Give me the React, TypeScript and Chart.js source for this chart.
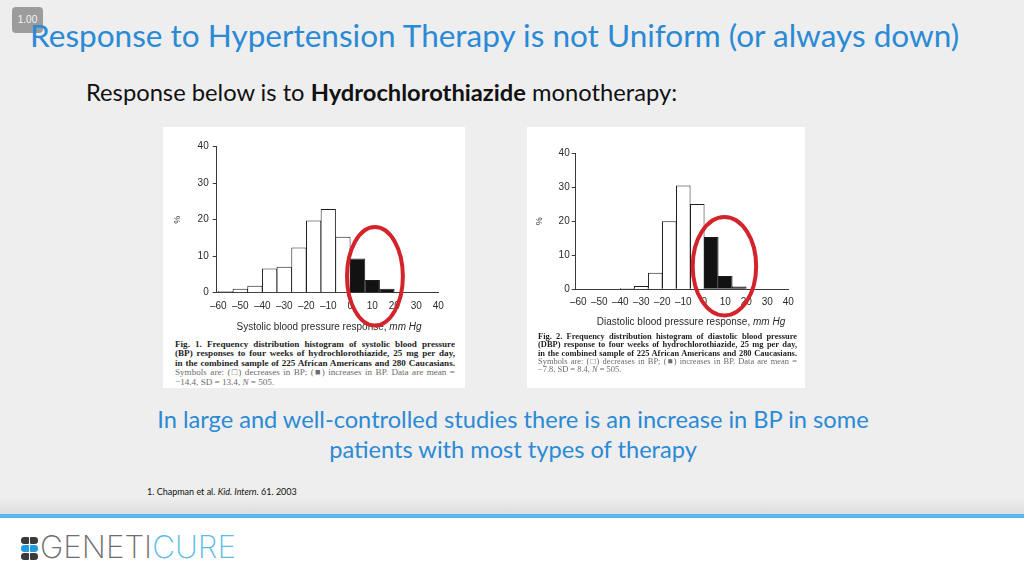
import React, { useEffect, useRef } from "react";
import { Chart, registerables } from "chart.js";

Chart.register(...registerables);

// ---------------- data ----------------
const binStarts = [-60, -53.33, -46.67, -40, -33.33, -26.67, -20, -13.33, -6.67, 0, 6.67, 13.33, 20, 26.67, 33.33];
const binWidth = 6.67;
const systolicPercent = [0.4, 1.1, 1.9, 6.6, 7.1, 12.4, 19.8, 22.9, 15.3, 9.4, 3.5, 1.1, 0.2, 0, 0.2];
const diastolicPercent = [0, 0, 0, 0.4, 1.0, 4.9, 20.0, 30.5, 25.1, 15.4, 3.9, 0.8, 0, 0, 0];
const xTickValues = [-60, -50, -40, -30, -20, -10, 0, 10, 20, 30, 40];
const yTickValues = [0, 10, 20, 30, 40];

const systolicCaption = [
  "Fig. 1. Frequency distribution histogram of systolic blood pressure",
  "(BP) responses to four weeks of hydrochlorothiazide, 25 mg per day,",
  "in the combined sample of 225 African Americans and 280 Caucasians.",
  "Symbols are: (\u25A1) decreases in BP; (\u25A0) increases in BP. Data are mean =",
  "\u221214.4, SD = 13.4, N = 505.",
];
const diastolicCaption = [
  "Fig. 2. Frequency distribution histogram of diastolic blood pressure",
  "(DBP) response to four weeks of hydrochlorothiazide, 25 mg per day,",
  "in the combined sample of 225 African Americans and 280 Caucasians.",
  "Symbols are: (\u25A1) decreases in BP; (\u25A0) increases in BP. Data are mean =",
  "\u22127.8, SD = 8.4, N = 505.",
];

// ---------------- helpers ----------------
const SLIDE_FONT = 'Lato, "Open Sans", sans-serif';
const FIG_FONT = '"Liberation Sans", Arial, Helvetica, sans-serif';
const CAP_FONT = '"Liberation Serif", "Times New Roman", serif';
const LOGO_FONT = 'Inter, Lato, sans-serif';

type Part = { t: string; b?: boolean; i?: boolean; c?: string };

let measureCtx: CanvasRenderingContext2D | null = null;
function partsWidth(parts: Part[], size: number, family: string, weight = "") {
  if (!measureCtx) measureCtx = document.createElement("canvas").getContext("2d");
  let w = 0;
  for (const p of parts) {
    measureCtx!.font = `${p.i ? "italic " : ""}${p.b ? "bold " : weight ? weight + " " : ""}${size}px ${family}`;
    w += measureCtx!.measureText(p.t).width;
  }
  return w;
}
function fitSize(parts: Part[], family: string, target: number, weight = "") {
  return (100 * target) / partsWidth(parts, 100, family, weight);
}

function TextLine(props: {
  parts: Part[];
  family?: string;
  size?: number;
  fit?: number;
  x: number;
  cy: number;
  align?: "left" | "center";
  color: string;
  weight?: number;
  spacing?: number;
}) {
  const family = props.family || SLIDE_FONT;
  const wt = props.weight ? String(props.weight) : "";
  const size = props.size ?? fitSize(props.parts, family, props.fit || 100, wt);
  const w = partsWidth(props.parts, size, family, wt);
  const left = props.align === "center" ? props.x - w / 2 : props.x;
  return (
    <div
      style={{
        position: "absolute",
        left,
        top: props.cy - 0.55 * size,
        whiteSpace: "nowrap",
        fontFamily: family,
        fontSize: size,
        lineHeight: `${size}px`,
        color: props.color,
        fontWeight: props.weight || 400,
      }}
    >
      {props.parts.map((p, k) => (
        <span key={k} style={{ fontWeight: p.b ? 700 : undefined, fontStyle: p.i ? "italic" : undefined, color: p.c }}>
          {p.t}
        </span>
      ))}
    </div>
  );
}

// overlay plugin: mixed-style x title + red ellipse annotation
const overlayPlugin = {
  id: "overlay",
  afterDraw(chart: any, _args: any, opts: any) {
    const { ctx, chartArea } = chart;
    const xs = chart.scales.x;
    const ys = chart.scales.y;
    ctx.save();
    ctx.fillStyle = "#2b2b2b";
    ctx.textBaseline = "middle";
    ctx.textAlign = "left";
    const f1 = `10px ${FIG_FONT}`;
    const f2 = `italic 10px ${FIG_FONT}`;
    ctx.font = f1;
    const w1 = ctx.measureText(opts.titleMain).width;
    ctx.font = f2;
    const w2 = ctx.measureText(opts.titleUnit).width;
    const sx = (chartArea.left + chartArea.right) / 2 + opts.titleShift - (w1 + w2) / 2;
    ctx.font = f1;
    ctx.fillText(opts.titleMain, sx, opts.titleY);
    ctx.font = f2;
    ctx.fillText(opts.titleUnit, sx + w1, opts.titleY);

    const e = opts.ellipse;
    const cx = xs.getPixelForValue(e.cx);
    const cy = ys.getPixelForValue(e.cy);
    const rx = Math.abs(xs.getPixelForValue(e.cx + e.rx) - cx);
    const ry = Math.abs(ys.getPixelForValue(e.cy + e.ry) - cy);
    ctx.beginPath();
    ctx.ellipse(cx, cy, rx, ry, 0, 0, Math.PI * 2);
    ctx.strokeStyle = "#d3242b";
    ctx.lineWidth = 4;
    ctx.stroke();
    ctx.restore();
  },
};

type HistProps = {
  values: number[];
  width: number;
  height: number;
  area: { left: number; top: number; right: number; bottom: number };
  xMin: number;
  yTitlePad: number;
  yTickPad: number;
  xTickPad: number;
  titleMain: string;
  titleUnit: string;
  titleY: number;
  titleShift: number;
  ellipse: { cx: number; cy: number; rx: number; ry: number };
};

function Histogram(p: HistProps) {
  const ref = useRef<HTMLCanvasElement>(null);
  useEffect(() => {
    const tickFont = { family: FIG_FONT, size: 10 };
    const chart = new Chart(ref.current!, {
      type: "bar",
      data: {
        datasets: [
          {
            data: binStarts.map((s, i) => ({ x: s + binWidth / 2, y: p.values[i] })),
            backgroundColor: binStarts.map((s) => (s >= 0 ? "#121212" : "#ffffff")),
            borderColor: "#1c1c1c",
            borderWidth: 1,
            barPercentage: 1.04,
            categoryPercentage: 1,
          } as any,
        ],
      },
      options: {
        responsive: false,
        animation: false,
        devicePixelRatio: 1,
        layout: { padding: { left: 0, top: p.area.top, right: p.width - p.area.right, bottom: 0 } },
        plugins: {
          legend: { display: false },
          tooltip: { enabled: false },
          overlay: {
            titleMain: p.titleMain,
            titleUnit: p.titleUnit,
            titleY: p.titleY,
            titleShift: p.titleShift,
            ellipse: p.ellipse,
          },
        } as any,
        scales: {
          x: {
            type: "linear",
            min: p.xMin,
            max: 40,
            offset: false,
            afterBuildTicks: (s: any) => {
              s.ticks = xTickValues.map((v) => ({ value: v }));
            },
            afterFit: (s: any) => {
              s.height = p.height - p.area.bottom;
            },
            grid: { display: false, drawTicks: false },
            border: { display: true, color: "#3a3a3a", width: 1 },
            ticks: {
              padding: p.xTickPad,
              autoSkip: false,
              maxRotation: 0,
              color: "#2b2b2b",
              font: tickFont,
              callback: (v: any) => (Number(v) < 0 ? "\u2013" + Math.abs(Number(v)) : String(v)),
            },
          },
          y: {
            min: 0,
            max: 40,
            afterBuildTicks: (s: any) => {
              s.ticks = yTickValues.map((v) => ({ value: v }));
            },
            afterFit: (s: any) => {
              s.width = p.area.left;
            },
            grid: { display: true, drawOnChartArea: false, drawTicks: true, tickLength: 4, color: "#3a3a3a" },
            border: { display: true, color: "#3a3a3a", width: 1 },
            ticks: { padding: p.yTickPad, color: "#2b2b2b", font: tickFont },
            title: {
              display: true,
              text: "%",
              color: "#2b2b2b",
              font: { family: FIG_FONT, size: 9 },
              padding: { top: p.yTitlePad, bottom: 0 },
            },
          },
        },
      } as any,
      plugins: [overlayPlugin as any],
    });
    return () => chart.destroy();
  }, []);
  return (
    <canvas
      ref={ref}
      width={p.width}
      height={p.height}
      style={{ position: "absolute", left: 0, top: 0, width: p.width, height: p.height }}
    />
  );
}

function Caption(props: { lines: string[]; left: number; width: number; centers: number[] }) {
  // font size chosen so the justified lines are nearly full
  let size = 100;
  props.lines.slice(0, 4).forEach((line, k) => {
    size = Math.min(size, fitSize([{ t: line, b: k < 3 }], CAP_FONT, props.width * 0.985));
  });
  return (
    <>
      {props.lines.map((line, k) => {
        const last = k === props.lines.length - 1;
        const bold = k < 3;
        let content: React.ReactNode = line;
        if (last) {
          const idx = line.indexOf("N =");
          content = (
            <>
              {line.slice(0, idx)}
              <i>N</i>
              {line.slice(idx + 1)}
            </>
          );
        }
        return (
          <div
            key={k}
            style={{
              position: "absolute",
              left: props.left,
              top: props.centers[k] - size * 0.6,
              width: props.width,
              height: size * 1.2,
              overflow: "hidden",
              fontFamily: CAP_FONT,
              fontSize: size,
              lineHeight: `${size * 1.2}px`,
              fontWeight: bold ? 700 : 400,
              color: bold ? "#1e1e1e" : "#6a6a6a",
              textAlign: "justify",
              textAlignLast: last ? "left" : "justify",
              whiteSpace: "normal",
            } as any}
          >
            {content}
          </div>
        );
      })}
    </>
  );
}

function Pill(props: { left: number; top: number; color: string }) {
  const h = 6.6;
  return (
    <>
      <div
        style={{
          position: "absolute",
          left: props.left,
          top: props.top,
          width: 8,
          height: h,
          background: props.color,
          borderRadius: `${h / 2}px 1px 1px ${h / 2}px`,
        }}
      />
      <div
        style={{
          position: "absolute",
          left: props.left + 9,
          top: props.top,
          width: 8,
          height: h,
          background: props.color,
          borderRadius: `1px ${h / 2}px ${h / 2}px 1px`,
        }}
      />
    </>
  );
}

export default function App() {
  const blue = "#2a8ad6";
  return (
    <div
      style={{
        position: "fixed",
        left: 0,
        top: 0,
        width: 1024,
        height: 576,
        overflow: "hidden",
        background: "#eeeeee",
      }}
    >
      {/* badge */}
      <div
        style={{
          position: "absolute",
          left: 12,
          top: 7,
          width: 31,
          height: 26,
          borderRadius: 4,
          background: "#9c9c9c",
          color: "#f4f4f4",
          fontFamily: FIG_FONT,
          fontSize: 10,
          lineHeight: "26px",
          textAlign: "center",
        }}
      >
        1.00
      </div>

      <TextLine
        parts={[{ t: "Response to Hypertension Therapy is not Uniform (or always down)" }]}
        x={30}
        fit={932}
        cy={37}
        color={blue}
      />
      <TextLine
        parts={[{ t: "Response below is to " }, { t: "Hydrochlorothiazide", b: true }, { t: " monotherapy:" }]}
        x={86}
        fit={592}
        cy={94}
        color="#111111"
      />

      {/* systolic figure */}
      <div style={{ position: "absolute", left: 163, top: 127, width: 302, height: 261, background: "#ffffff", overflow: "hidden" }}>
        <Histogram
          values={systolicPercent}
          width={302}
          height={210}
          area={{ left: 53.7, top: 19.7, right: 275.3, bottom: 165.7 }}
          xMin={-60.7}
          yTitlePad={9}
          yTickPad={4}
          xTickPad={8}
          titleMain="Systolic blood pressure response, "
          titleUnit="mm Hg"
          titleY={200}
          titleShift={1.5}
          ellipse={{ cx: 11.2, cy: 4.5, rx: 12.7, ry: 13.5 }}
        />
        <Caption lines={systolicCaption} left={12} width={280} centers={[217, 226, 236, 245, 255]} />
      </div>

      {/* diastolic figure */}
      <div style={{ position: "absolute", left: 527, top: 127, width: 278, height: 261, background: "#ffffff", overflow: "hidden" }}>
        <Histogram
          values={diastolicPercent}
          width={278}
          height={205}
          area={{ left: 48.7, top: 26.3, right: 261.3, bottom: 162.3 }}
          xMin={-61.2}
          yTitlePad={7}
          yTickPad={2}
          xTickPad={6.5}
          titleMain="Diastolic blood pressure response, "
          titleUnit="mm Hg"
          titleY={195}
          titleShift={9}
          ellipse={{ cx: 9.6, cy: 6.8, rx: 15.1, ry: 14.5 }}
        />
        <Caption lines={diastolicCaption} left={11} width={259} centers={[208.7, 217, 225.7, 233.7, 242]} />
      </div>

      <TextLine
        parts={[{ t: "In large and well-controlled studies there is an increase in BP in some" }]}
        x={513.5}
        align="center"
        fit={713}
        cy={421}
        color={blue}
      />
      <TextLine
        parts={[{ t: "patients with most types of therapy" }]}
        x={513.5}
        align="center"
        size={fitSize([{ t: "In large and well-controlled studies there is an increase in BP in some" }], SLIDE_FONT, 713)}
        cy={451}
        color={blue}
      />
      <TextLine
        parts={[{ t: "1. Chapman et al. " }, { t: "Kid. Intern", i: true }, { t: ". 61. 2003" }]}
        x={147}
        fit={150}
        cy={492}
        color="#111111"
      />

      {/* footer */}
      <div
        style={{
          position: "absolute",
          left: 0,
          top: 498,
          width: 1024,
          height: 16,
          background: "linear-gradient(to bottom, rgba(0,0,0,0), rgba(0,0,0,0.07))",
        }}
      />
      <div style={{ position: "absolute", left: 0, top: 514, width: 1024, height: 4, background: "#56baf0" }} />
      <div style={{ position: "absolute", left: 0, top: 518, width: 1024, height: 58, background: "#ffffff" }} />

      <Pill left={21} top={537} color="#3a3a3a" />
      <Pill left={21} top={545} color="#1f9de0" />
      <Pill left={21} top={553.2} color="#3a3a3a" />
      <TextLine
        parts={[{ t: "GENETI", c: "#6e6e6e" }, { t: "CURE", c: "#5bbde8" }]}
        family={LOGO_FONT}
        x={40}
        fit={196}
        cy={549}
        color="#6e6e6e"
        weight={200}
      />
    </div>
  );
}
